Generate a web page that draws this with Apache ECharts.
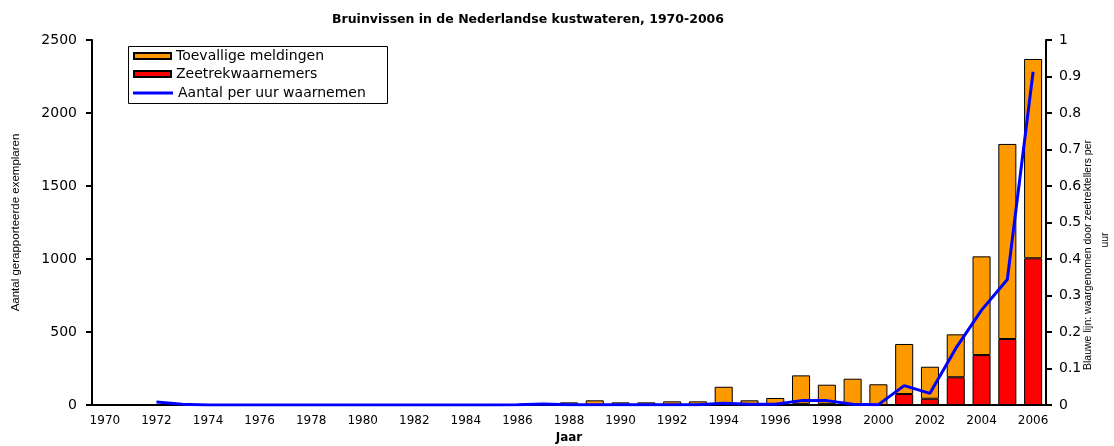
<!DOCTYPE html>
<html>
<head>
<meta charset="utf-8">
<script src="https://cdn.jsdelivr.net/npm/echarts@6/dist/echarts.min.js"></script>
<style>
html,body{margin:0;padding:0;background:#fff;}
#c{width:1114px;height:446px;}
</style>
</head>
<body>
<div id="c"></div>
<script>
var years = [];
for (var y = 1970; y <= 2006; y++) years.push(String(y));

// Zeetrekwaarnemers (red, bottom of stack)
var zeetrek = [0,0,0,0,0,0,0,0,0,0,0,0,0,0,0,0,0,0,0,0,0,0,0,0,0,0,0,8,8,0,0,75,43,190,342,452,1005];
// Toevallige meldingen (orange, on top)
var toevallig = [0,0,3,1,1,0,1,0,1,0,1,0,1,0,1,0,5,3,18,32,18,18,25,25,125,32,48,195,131,180,142,343,219,294,676,1336,1365];
// Aantal per uur waarnemen (blue line, right axis)
var perUur = [null,null,0.008,0.002,0,0,0,0,0,0,0,0,0,0,0,0,0.001,0.003,0.001,0.001,0.001,0.001,0.001,0.001,0.005,0.002,0.002,0.012,0.012,0.002,0.001,0.053,0.032,0.155,0.26,0.344,0.913];

var leftTicks = [0,500,1000,1500,2000,2500];
var rightTicks = [0,0.1,0.2,0.3,0.4,0.5,0.6,0.7,0.8,0.9,1];

var F = '"Liberation Sans", Arial, sans-serif';
var D = '"DejaVu Sans", sans-serif';

function legendAt(name, top, icon, h, w) {
  return {
    orient: 'vertical', left: 133, top: top, padding: 0,
    icon: icon, itemWidth: w, itemHeight: h,
    textStyle: {fontFamily: D, fontSize: 14, color: '#000', lineHeight: 16},
    data: [name]
  };
}

var chart = echarts.init(document.getElementById('c'), null, {renderer:'canvas'});
chart.setOption({
  animation: false,
  backgroundColor: '#fff',
  textStyle: {fontFamily: F, color: '#000'},
  title: {
    text: 'Bruinvissen in de Nederlandse kustwateren, 1970-2006',
    left: 327, top: 8,
    textStyle: {fontFamily: D, fontSize: 12.5, fontWeight: 'bold', color: '#000'}
  },
  legend: [
    legendAt('Toevallige meldingen', 48, 'rect', 6, 37),
    legendAt('Zeetrekwaarnemers', 66, 'rect', 6, 37),
    legendAt('Aantal per uur waarnemen', 85, 'rect', 3, 40)
  ],
  graphic: [
    {type: 'rect', left: 126, top: 44, z: 1,
     shape: {width: 259, height: 57}, style: {fill: 'none', stroke: '#000', lineWidth: 1}},
    {type: 'text', x: 1088, y: 255, rotation: Math.PI / 2, z: 10,
     style: {text: 'Blauwe lijn: waargenomen door zeetrektellers per', font: '10.5px "Liberation Sans", Arial, sans-serif',
       fill: '#000', align: 'center', verticalAlign: 'middle'}},
    {type: 'text', x: 1105, y: 240, rotation: Math.PI / 2, z: 10,
     style: {text: 'uur', font: '10.5px "Liberation Sans", Arial, sans-serif',
       fill: '#000', align: 'center', verticalAlign: 'middle'}}
  ],
  grid: {left: 92, right: 68, top: 40, bottom: 41, outerBoundsMode: 'none', containLabel: false},
  xAxis: {
    type: 'category',
    data: years,
    name: 'Jaar',
    nameLocation: 'middle',
    nameGap: 27,
    nameTextStyle: {fontFamily: D, fontSize: 12, fontWeight: 'bold', color: '#000'},
    axisLine: {lineStyle: {color: '#000', width: 2}},
    axisTick: {interval: 0, length: 5, lineStyle: {color: '#000', width: 2}},
    axisLabel: {interval: 1, fontFamily: D, fontSize: 12, color: '#000', margin: 10}
  },
  yAxis: [
    {
      type: 'value', min: 0, max: 2500, interval: 500,
      name: 'Aantal gerapporteerde exemplaren',
      nameLocation: 'middle', nameRotate: 90, nameGap: 70,
      nameTextStyle: {fontFamily: F, fontSize: 11.5, color: '#000'},
      splitLine: {show: false},
      axisLine: {show: true, lineStyle: {color: '#000', width: 2}},
      axisTick: {show: true, length: 6, lineStyle: {color: '#000', width: 2}},
      axisLabel: {fontFamily: D, fontSize: 14, color: '#000', margin: 15,
        formatter: function(v){ return leftTicks.indexOf(v) >= 0 ? String(v) : ''; }}
    },
    {
      type: 'value', min: 0, max: 1, interval: 0.1,
      position: 'right',
      splitLine: {show: false},
      axisLine: {show: true, lineStyle: {color: '#000', width: 2}},
      axisTick: {show: true, length: 6, lineStyle: {color: '#000', width: 2}},
      axisLabel: {fontFamily: D, fontSize: 14, color: '#000', margin: 13,
        formatter: function(v){
          for (var i = 0; i < rightTicks.length; i++) if (Math.abs(rightTicks[i]-v) < 1e-9) return String(rightTicks[i]);
          return '';
        }}
    }
  ],
  series: [
    {
      name: 'Zeetrekwaarnemers', type: 'bar', stack: 'a', data: zeetrek,
      barWidth: '70%',
      itemStyle: {color: '#FF0000', borderColor: '#000', borderWidth: 1}
    },
    {
      name: 'Toevallige meldingen', type: 'bar', stack: 'a', data: toevallig,
      barWidth: '70%',
      itemStyle: {color: '#FF9900', borderColor: '#000', borderWidth: 1}
    },
    {
      name: 'Aantal per uur waarnemen', type: 'line', yAxisIndex: 1, data: perUur,
      symbol: 'none', showSymbol: false,
      lineStyle: {color: '#0000FF', width: 3},
      itemStyle: {color: '#0000FF'}
    }
  ]
});
</script>
</body>
</html>
